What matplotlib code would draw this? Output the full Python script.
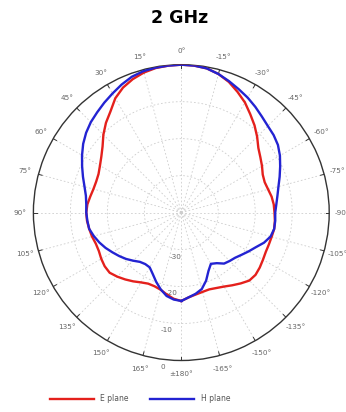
import matplotlib
matplotlib.use('Agg')
import matplotlib.pyplot as plt
import numpy as np

# gain pattern at 2 GHz, dB relative to peak; angle in degrees (0 = top, positive = left)
angles_deg = [-180, -175, -170, -165, -160, -155, -150, -145, -140, -135, -130, -125,
              -120, -115, -110, -105, -100, -95, -90, -85, -80, -75, -70, -65,
              -60, -55, -50, -45, -40, -35, -30, -25, -20, -15, -10, -5,
              0, 5, 10, 15, 20, 25, 30, 35, 40, 45, 50, 55,
              60, 65, 70, 75, 80, 85, 90, 95, 100, 105, 110, 115,
              120, 125, 130, 135, 140, 145, 150, 155, 160, 165, 170, 175, 180]

e_plane = [-16.1, -17.0, -17.5, -17.8, -17.9, -17.5, -16.9, -16.0, -15.0, -14.0, -13.8, -14.1,
           -14.5, -14.8, -14.8, -14.7, -14.5, -14.6, -14.8, -14.9, -15.2, -15.7, -16.0, -15.7,
           -14.8, -13.9, -12.8, -11.0, -9.2, -7.5, -5.6, -4.0, -2.4, -1.2, -0.4, -0.1,
           0.0, -0.1, -0.3, -0.8, -1.6, -2.7, -4.3, -6.6, -8.3, -10.2, -12.2, -13.6,
           -14.6, -15.3, -15.5, -15.4, -15.0, -14.5, -14.3, -14.4, -14.7, -15.0, -15.4, -15.4,
           -15.0, -14.7, -14.7, -15.5, -16.4, -17.3, -18.2, -18.8, -18.8, -18.4, -17.5, -16.6, -16.1]

h_plane = [-16.1, -17.0, -17.7, -18.6, -20.4, -22.6, -24.0, -23.3, -22.0, -21.5, -21.0, -20.1,
           -19.0, -17.8, -16.2, -15.0, -14.5, -14.5, -14.6, -14.2, -13.6, -12.8, -11.7, -10.5,
           -9.2, -8.1, -7.4, -6.9, -6.1, -5.1, -4.1, -3.2, -2.2, -1.2, -0.4, -0.1,
           0.0, -0.1, -0.2, -0.4, -0.9, -1.8, -2.8, -3.7, -4.6, -5.4, -6.4, -7.6,
           -9.0, -10.4, -11.7, -12.9, -13.8, -14.2, -14.3, -14.5, -14.7, -15.5, -16.4, -17.4,
           -18.5, -19.5, -20.5, -21.6, -22.6, -23.0, -22.9, -21.7, -20.1, -18.5, -17.1, -16.4, -16.1]

r_ticks = [-30, -20, -10, 0]
r_min, r_max = -40, 0
theta_ticks = list(range(0, 360, 15))


def theta_label(deg):
    if deg == 180:
        return '\u00b1180\u00b0'
    if deg > 180:
        deg -= 360
    return f'{deg}\u00b0'


def main():
    fig = plt.figure(figsize=(3.46, 4.12), dpi=100)
    ax = fig.add_axes([0.0965, 0.125, 0.855, 0.718], projection='polar')
    ax.set_theta_zero_location('N')
    ax.set_theta_direction(1)
    ax.set_ylim(r_min, r_max)

    theta = np.deg2rad(angles_deg)
    ax.plot(theta, e_plane, color='#e4201c', lw=1.7, label='E plane', zorder=4)
    ax.plot(theta, h_plane, color='#2323d2', lw=1.7, label='H plane', zorder=5)

    # grid
    grid_style = dict(color='#cdcdcd', lw=0.6, linestyle=(0, (2, 2.5)), zorder=1)
    circle_t = np.linspace(0, 2 * np.pi, 361)
    for r in r_ticks[:-1]:
        ax.plot(circle_t, np.full_like(circle_t, r), **grid_style)
    for t in theta_ticks:
        ax.plot([np.deg2rad(t)] * 2, [r_min, r_max], **grid_style)
        ax.plot([np.deg2rad(t)] * 2, [r_max - 1.0, r_max], color='#333333', lw=0.7, zorder=3)
    ax.grid(False)
    ax.spines['polar'].set_color('#333333')
    ax.spines['polar'].set_linewidth(1.0)
    ax.set_xticks([])
    ax.set_yticks([])

    label_kw = dict(fontsize=5.2, color='#666666', ha='center', va='center', clip_on=False)
    for t in theta_ticks:
        ax.text(np.deg2rad(t), r_max + 3.7, theta_label(t), **label_kw)
    for r in r_ticks:
        ax.text(np.deg2rad(173), r + 2.0, f'{r}', **label_kw)

    fig.text(0.52, 1 - 18 / 412, '2 GHz', ha='center', va='center',
             fontsize=12.5, fontweight='bold')

    fig.legend(loc='center', bbox_to_anchor=(0.405, 0.032), ncol=2, frameon=False,
               fontsize=5.5, handlelength=5.7, handletextpad=0.9, columnspacing=2.8,
               labelcolor='#555555')

    fig.savefig('out.png', dpi=100)


if __name__ == '__main__':
    main()
